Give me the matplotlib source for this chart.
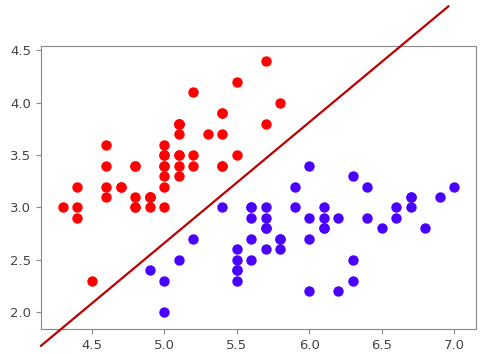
import numpy as np
import matplotlib.pyplot as plt

# iris sepal length / width, setosa and versicolor
setosa_x = [5.1, 4.9, 4.7, 4.6, 5.0, 5.4, 4.6, 5.0, 4.4, 4.9, 5.4, 4.8, 4.8, 4.3, 5.8, 5.7, 5.4,
            5.1, 5.7, 5.1, 5.4, 5.1, 4.6, 5.1, 4.8, 5.0, 5.0, 5.2, 5.2, 4.7, 4.8, 5.4, 5.2, 5.5,
            4.9, 5.0, 5.5, 4.9, 4.4, 5.1, 5.0, 4.5, 4.4, 5.0, 5.1, 4.8, 5.1, 4.6, 5.3, 5.0]
setosa_y = [3.5, 3.0, 3.2, 3.1, 3.6, 3.9, 3.4, 3.4, 2.9, 3.1, 3.7, 3.4, 3.0, 3.0, 4.0, 4.4, 3.9,
            3.5, 3.8, 3.8, 3.4, 3.7, 3.6, 3.3, 3.4, 3.0, 3.4, 3.5, 3.4, 3.2, 3.1, 3.4, 4.1, 4.2,
            3.1, 3.2, 3.5, 3.1, 3.0, 3.4, 3.5, 2.3, 3.2, 3.5, 3.8, 3.0, 3.8, 3.2, 3.7, 3.3]
versicolor_x = [7.0, 6.4, 6.9, 5.5, 6.5, 5.7, 6.3, 4.9, 6.6, 5.2, 5.0, 5.9, 6.0, 6.1, 5.6, 6.7, 5.6,
                5.8, 6.2, 5.6, 5.9, 6.1, 6.3, 6.1, 6.4, 6.6, 6.8, 6.7, 6.0, 5.7, 5.5, 5.5, 5.8, 6.0,
                5.4, 6.0, 6.7, 6.3, 5.6, 5.5, 5.5, 6.1, 5.8, 5.0, 5.6, 5.7, 5.7, 6.2, 5.1, 5.7]
versicolor_y = [3.2, 3.2, 3.1, 2.3, 2.8, 2.8, 3.3, 2.4, 2.9, 2.7, 2.0, 3.0, 2.2, 2.9, 2.9, 3.1, 3.0,
                2.7, 2.2, 2.5, 3.2, 2.8, 2.5, 2.8, 2.9, 3.0, 2.8, 3.0, 2.9, 2.6, 2.4, 2.4, 2.7, 2.7,
                3.0, 3.4, 3.1, 2.3, 3.0, 2.5, 2.6, 3.0, 2.6, 2.3, 2.7, 3.0, 2.9, 2.9, 2.5, 2.8]

# decision boundary endpoints
line_x = [4.15, 6.96]
line_y = [1.68, 4.92]

fig = plt.figure(figsize=(4.87, 3.54), dpi=100)
ax = fig.add_axes([0.0842, 0.0706, 0.893, 0.799])

ax.scatter(setosa_x, setosa_y, color='#ff0000', s=42, zorder=3)
ax.scatter(versicolor_x, versicolor_y, color='#4a00ff', s=42, zorder=3)
ax.plot(line_x, line_y, color='#b80000', lw=1.6, clip_on=False, zorder=4)

ax.set_xlim(4.15, 7.15)
ax.set_ylim(1.84, 4.54)
ax.set_xticks(np.arange(4.5, 7.01, 0.5))
ax.set_yticks(np.arange(2.0, 4.51, 0.5))

for s in ax.spines.values():
    s.set_color('#888888')
ax.tick_params(colors='#888888', labelcolor='#444444', labelsize=9.5)

plt.savefig('out.png', dpi=100)
